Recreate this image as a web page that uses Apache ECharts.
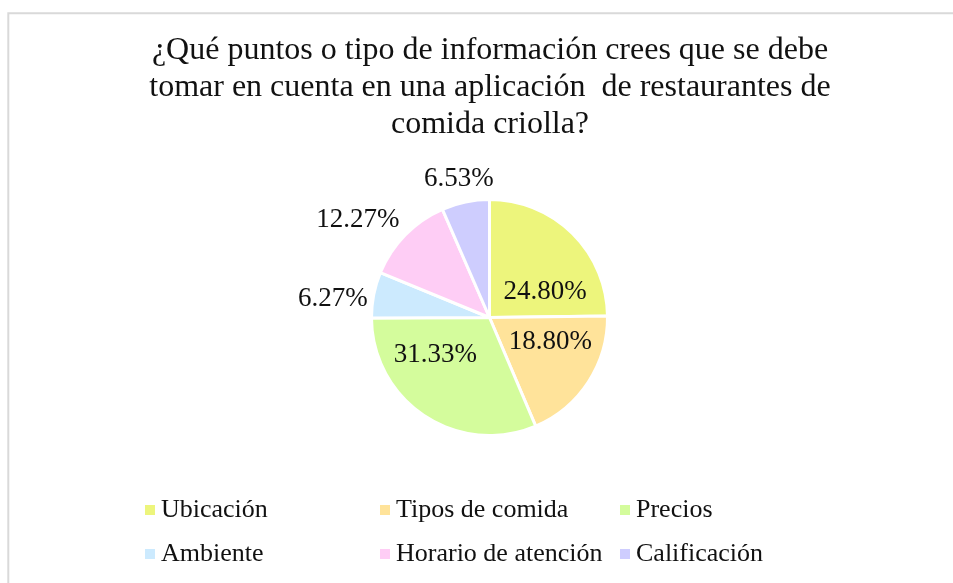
<!DOCTYPE html>
<html>
<head>
<meta charset="utf-8">
<script src="https://cdn.jsdelivr.net/npm/echarts@6/dist/echarts.min.js"></script>
<style>
  html, body { margin: 0; padding: 0; background: #fff; }
  #chart { width: 953px; height: 583px; }
</style>
</head>
<body>
<div id="chart"></div>
<script>
  // categorías y porcentajes
  const categories = ['Ubicación', 'Tipos de comida', 'Precios', 'Ambiente', 'Horario de atención', 'Calificación']
  const percentages = [24.80, 18.80, 31.33, 6.27, 12.27, 6.53]
  const sliceColors = ['#edf57c', '#ffe39a', '#d4fc9c', '#cceafe', '#fecdf5', '#cecdfe']

  // las tres más grandes llevan la etiqueta dentro
  const insideLabels = ['Ubicación', 'Tipos de comida', 'Precios']

  // pequeños ajustes de las etiquetas (como las coloca Excel)
  const labelNudge = {
    'Ubicación': [12, 19],
    'Tipos de comida': [9, -9],
    'Precios': [-20, -14],
    'Ambiente': [2, 6],
    'Horario de atención': [0, -9],
    'Calificación': [30, -15]
  }

  const serif = 'Liberation Serif, Times New Roman, serif'

  const chart = echarts.init(document.getElementById('chart'))

  const pieData = categories.map((name, i) => {
    const inside = insideLabels.includes(name)
    return {
      name: name,
      value: percentages[i],
      itemStyle: { color: sliceColors[i] },
      label: { position: inside ? 'inside' : 'outside' }
    }
  })

  // leyenda en rejilla: una leyenda por columna
  const legendCols = [
    { left: 143, data: ['Ubicación', 'Ambiente'] },
    { left: 378, data: ['Tipos de comida', 'Horario de atención'] },
    { left: 618, data: ['Precios', 'Calificación'] }
  ]

  const option = {
    backgroundColor: '#fff',
    animation: false,
    title: {
      text: '¿Qué puntos o tipo de información crees que se debe\ntomar en cuenta en una aplicación  de restaurantes de\ncomida criolla?',
      left: 490,
      top: 32,
      textAlign: 'center',
      padding: 0,
      textStyle: {
        fontFamily: serif,
        fontSize: 32,
        fontWeight: 'normal',
        lineHeight: 37,
        color: '#111'
      }
    },
    legend: legendCols.map(col => ({
      orient: 'vertical',
      left: col.left,
      top: 495,
      padding: 0,
      itemGap: 14,
      itemWidth: 12,
      itemHeight: 12,
      icon: 'rect',
      data: col.data,
      textStyle: {
        fontFamily: serif,
        fontSize: 26,
        lineHeight: 30,
        color: '#111',
        padding: [0, 0, 0, 0]
      }
    })),
    graphic: [{
      type: 'rect',
      silent: true,
      shape: { x: 8.3, y: 13.3, width: 1000, height: 700 },
      style: { fill: 'none', stroke: '#d9d9d9', lineWidth: 2 }
    }],
    series: [{
      type: 'pie',
      center: [489.5, 317.5],
      radius: 118,
      startAngle: 90,
      clockwise: true,
      avoidLabelOverlap: false,
      itemStyle: { borderColor: '#fff', borderWidth: 3 },
      label: {
        show: true,
        formatter: p => p.value.toFixed(2) + '%',
        fontFamily: serif,
        fontSize: 27,
        color: '#111',
        distanceToLabelLine: 0
      },
      labelLine: { show: false, length: 8, length2: 0 },
      labelLayout: params => {
        const d = labelNudge[categories[params.dataIndex]]
        return { dx: d[0], dy: d[1] }
      },
      emphasis: { disabled: true },
      data: pieData
    }]
  }

  chart.setOption(option)
</script>
</body>
</html>
